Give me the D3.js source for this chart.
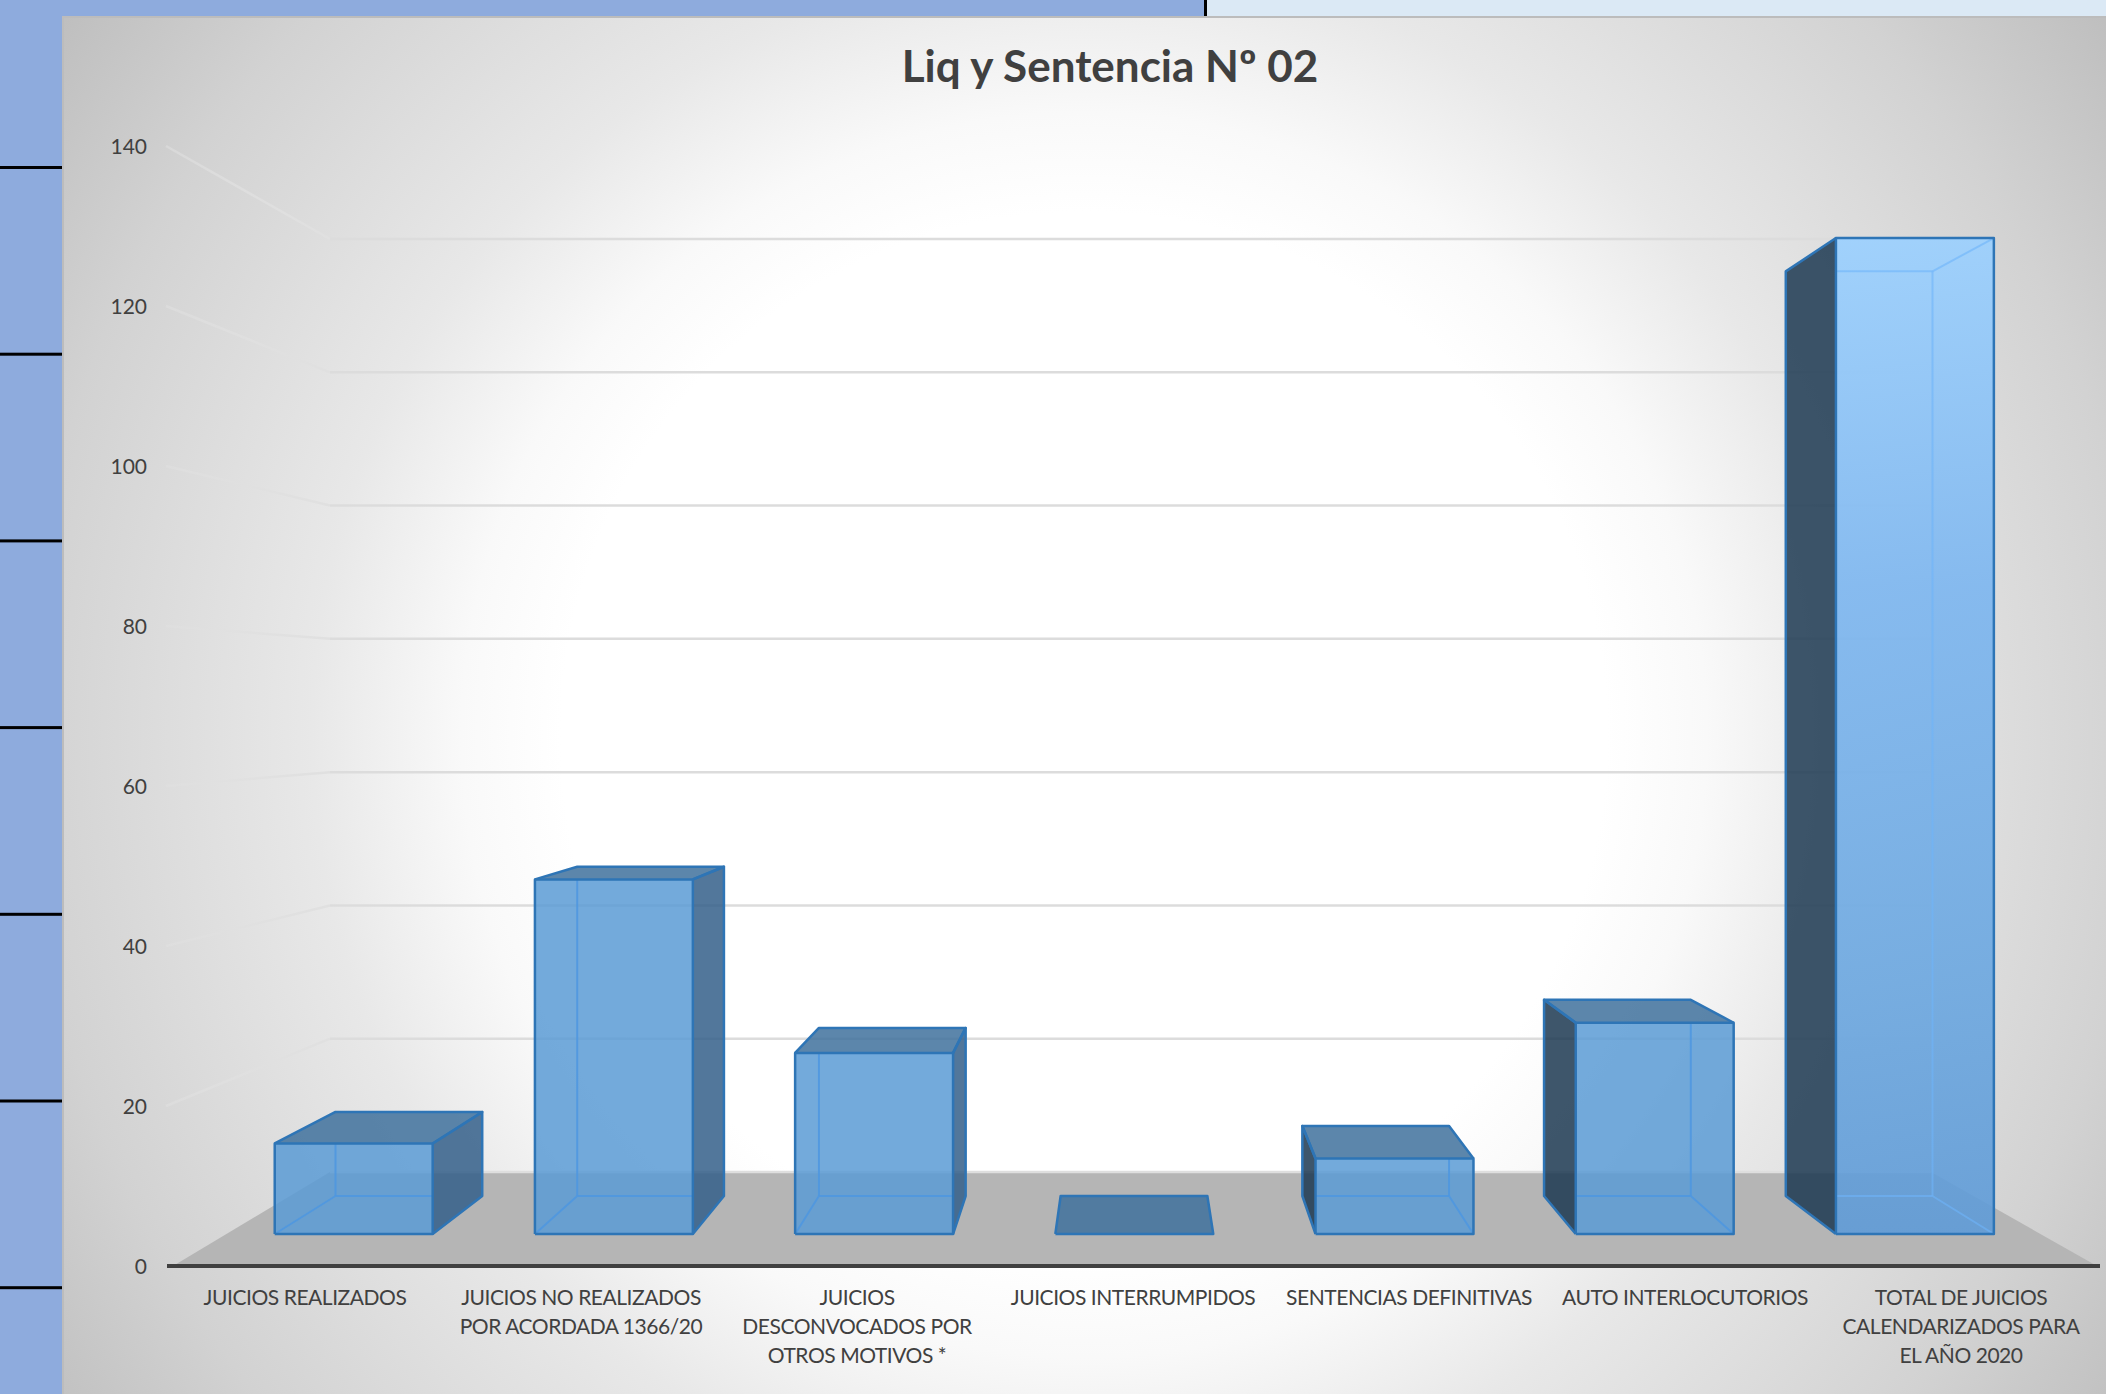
<!DOCTYPE html>
<html><head><meta charset="utf-8">
<script src="https://cdn.jsdelivr.net/npm/d3@7"></script>
<style>html,body{margin:0;padding:0;background:#fff;overflow:hidden}svg{display:block}text{font-family:Lato,sans-serif}</style>
</head><body><div id="chart"></div>
<script>
const title = "Liq y Sentencia Nº 02";
const categories = ["JUICIOS REALIZADOS","JUICIOS NO REALIZADOS POR ACORDADA 1366/20","JUICIOS DESCONVOCADOS POR OTROS MOTIVOS *","JUICIOS INTERRUMPIDOS","SENTENCIAS DEFINITIVAS","AUTO INTERLOCUTORIOS","TOTAL DE JUICIOS CALENDARIZADOS PARA EL AÑO 2020"];
const categoryLines = [["JUICIOS REALIZADOS"],["JUICIOS NO REALIZADOS","POR ACORDADA 1366/20"],["JUICIOS","DESCONVOCADOS POR","OTROS MOTIVOS *"],["JUICIOS INTERRUMPIDOS"],["SENTENCIAS DEFINITIVAS"],["AUTO INTERLOCUTORIOS"],["TOTAL DE JUICIOS","CALENDARIZADOS PARA","EL AÑO 2020"]];
const values = [12,47,24,0,10,28,132];
const yTicks = [0,20,40,60,80,100,120,140];

const W=2106,H=1394;
const svg=d3.select("#chart").append("svg").attr("width",W).attr("height",H);
const defs=svg.append("defs");
const bg=defs.append("radialGradient").attr("id","bg").attr("gradientUnits","userSpaceOnUse")
  .attr("cx",1084).attr("cy",735).attr("r",1245);
[[0,"#ffffff"],[.42,"#ffffff"],[.5,"#f9f9f9"],[.62,"#e8e8e8"],[.85,"#d2d2d2"],[1,"#bfbfbf"]].forEach(s=>bg.append("stop").attr("offset",s[0]).attr("stop-color",s[1]));
const hi=defs.append("linearGradient").attr("id","hi").attr("gradientUnits","userSpaceOnUse").attr("x1",0).attr("x2",0).attr("y1",237).attr("y2",1234);
[[0,"#9ad0ff"],[.35,"#7cb6f0"],[.75,"#6ba7e0"],[1,"#5f9bd7"]].forEach(s=>hi.append("stop").attr("offset",s[0]).attr("stop-color",s[1]).attr("stop-opacity",.9));
const fade=defs.append("linearGradient").attr("id","fade").attr("gradientUnits","userSpaceOnUse").attr("x1",166).attr("x2",330).attr("y1",0).attr("y2",0);
[[0,.55],[.5,.8],[1,1]].forEach(s=>fade.append("stop").attr("offset",s[0]).attr("stop-color","#e0e0e0").attr("stop-opacity",s[1]));

// page behind the chart
svg.append("rect").attr("width",W).attr("height",H).attr("fill","#8eabdd");
svg.append("rect").attr("x",1205).attr("width",W-1205).attr("height",17).attr("fill","#dbe9f5");
svg.append("rect").attr("x",1204).attr("width",3).attr("height",17).attr("fill","#000");
svg.selectAll("rect.rule").data(d3.range(7)).join("rect").attr("class","rule")
  .attr("x",0).attr("width",62).attr("height",3).attr("y",i=>166+i*186.7).attr("fill","#000");
svg.append("rect").attr("x",62).attr("y",16).attr("width",W-62).attr("height",H-16).attr("fill","url(#bg)");
svg.append("path").attr("d",`M63,${H}V17H${W}`).attr("fill","none").attr("stroke","#bcbcbc").attr("stroke-width",2);

// scales: front of the floor, back wall, and the bars' front and back planes
const yAxisScale=d3.scaleLinear().domain([0,140]).range([1266,146]);
const yWall=d3.scaleLinear().domain([0,140]).range([1172,239]);
const yFront=d3.scaleLinear().domain([0,140]).range([1234,177.7]);
const yBack=d3.scaleLinear().domain([0,140]).range([1196,215.3]);
const xFront=d3.scaleBand().domain(categories).range([223.6,2045]).paddingInner(.393).paddingOuter(.1965);
const xBack=d3.scaleBand().domain(categories).range([288,1980]).paddingInner(.393).paddingOuter(.1965);
const xAxisScale=d3.scaleBand().domain(categories).range([167,2099]);

// floor
svg.append("path").attr("d","M173,1266L330,1172H1931L2097,1266Z").attr("fill","#b5b5b5");
svg.append("line").attr("x1",330).attr("x2",1931).attr("y1",1172).attr("y2",1172).attr("stroke","#dedede").attr("stroke-width",2.5);

// gridlines: left wall (fading out) and back wall
const grid=svg.append("g").attr("fill","none").attr("stroke-width",2.5);
grid.selectAll("path.side").data(yTicks.slice(1)).join("path").attr("class","side")
  .attr("d",v=>`M166,${yAxisScale(v)}L330,${yWall(v)}`)
  .attr("stroke","url(#fade)");
grid.selectAll("path.back").data(yTicks.slice(1)).join("path").attr("class","back")
  .attr("d",v=>`M330,${yWall(v)}H1931`)
  .attr("stroke","#dcdcdc");

// bars
const line=d3.line();
const bars=svg.append("g").selectAll("g").data(categories.map((c,i)=>({c,v:values[i],i}))).join("g");
bars.each(function(d){
  const g=d3.select(this);
  const fl=xFront(d.c),fr=fl+xFront.bandwidth(),bl=xBack(d.c),br=bl+xBack.bandwidth();
  const f0=yFront(0),ft=yFront(d.v),b0=yBack(0),bt=yBack(d.v);
  const edge="#2e75b6",inner=d.v>100?"rgba(110,180,250,.6)":"rgba(78,150,225,.85)";
  const poly=(pts,fill,op)=>g.append("path").attr("d",line(pts)+"Z").attr("fill",fill).attr("fill-opacity",op===undefined?.85:op);
  const stroke=(pts,col,w)=>g.append("path").attr("d",line(pts)).attr("fill","none").attr("stroke",col).attr("stroke-width",w).attr("stroke-linejoin","round");
  const hasTop=ft>bt;
  const rightSide=br>fr,leftSide=bl<fl;
  if(d.v>0 && rightSide){poly([[fr,f0],[br,b0],[br,bt],[fr,ft]],"#345f8a");}
  if(d.v>0 && leftSide){poly([[fl,f0],[bl,b0],[bl,bt],[fl,ft]],"#1c3851");}
  if(hasTop||d.v===0){poly([[fl,ft],[bl,bt],[br,bt],[fr,ft]],"#3f719c");}
  if(d.v>0){
    poly([[fl,f0],[fl,ft],[fr,ft],[fr,f0]],d.v>100?"url(#hi)":"#5b9bd5",d.v>100?1:.85);
    // back edges seen through the translucent front face, stopping at its sides
    const il=Math.max(fl,bl),ir=Math.min(fr,br);
    stroke([[il,b0],[ir,b0]],inner,2);
    if(!leftSide){stroke([[bl,bt<ft?ft:bt],[bl,b0]],inner,2);stroke([[fl,f0],[bl,b0]],inner,2);}
    if(!rightSide){stroke([[br,bt<ft?ft:bt],[br,b0]],inner,2);stroke([[fr,f0],[br,b0]],inner,2);}
    if(!hasTop){stroke([[il,bt],[ir,bt]],inner,2);stroke([[br,bt],[fr,ft]],inner,2);}
    if(rightSide) stroke([[fr,f0],[br,b0],[br,bt],[fr,ft]],edge,2.5);
    if(leftSide) stroke([[fl,f0],[bl,b0],[bl,bt],[fl,ft]],edge,2.5);
    if(hasTop) stroke([[fl,ft],[bl,bt],[br,bt],[fr,ft]],edge,2.5);
    stroke([[fl,f0],[fl,ft],[fr,ft],[fr,f0],[fl,f0]],edge,2.5);
  } else {
    stroke([[fl,f0],[bl,bt],[br,bt],[fr,f0],[fl,f0]],edge,2.5);
  }
});

// axes
const axL=svg.append("g").attr("transform","translate(147,1)").call(d3.axisLeft(yAxisScale).tickValues(yTicks).tickSize(0).tickPadding(0));
axL.select(".domain").remove();
axL.selectAll("text").attr("font-size",21).attr("fill","#404040").style("font-family","Lato,sans-serif");

const axB=svg.append("g").attr("transform","translate(0,1266)").call(d3.axisBottom(xAxisScale).tickSize(0).tickFormat(""));
axB.select(".domain").attr("stroke","#404040").attr("stroke-width",4).attr("d","M167,0H2100");
axB.selectAll(".tick").each(function(d,i){
  const t=d3.select(this).select("text").text(null).attr("fill","#404040").attr("font-size",21).attr("letter-spacing",-.45).style("font-family","Lato,sans-serif").attr("y",0).attr("dy",null);
  categoryLines[i].forEach((l,j)=>t.append("tspan").attr("x",0).attr("y",39+j*29).text(l));
});

svg.append("text").attr("x",1110).attr("y",82).attr("text-anchor","middle").attr("font-size",44).attr("font-weight",700).attr("fill","#404040").text(title);
</script></body></html>
